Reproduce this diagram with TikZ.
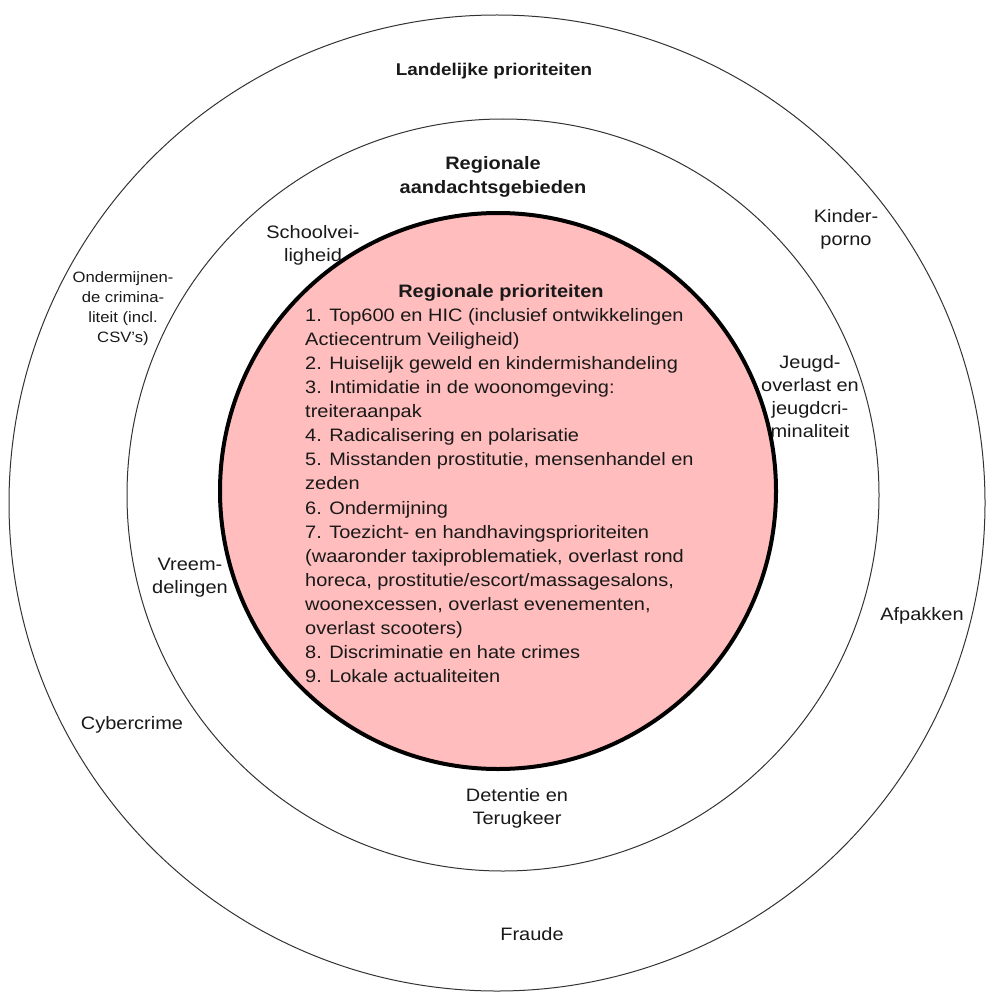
\documentclass[tikz,border=0pt]{standalone}
\usepackage{fontspec}
\setmainfont{Liberation Sans}[FakeStretch=1.11]
\usetikzlibrary{shapes,arrows,positioning,calc}
\definecolor{roze}{RGB}{255,189,189}

\tikzset{
  ring/.style={draw=black!80, circle, inner sep=0pt, line width=1pt},
  tekst/.style={align=center, inner sep=0pt, text=black!90, font=\fontsize{18}{23}\selectfont},
  kop/.style={tekst, font=\bfseries\fontsize{18}{24}\selectfont},
  klein/.style={tekst, font=\fontsize{15}{20}\selectfont},
}

\begin{document}
\begin{tikzpicture}[x=1pt, y=-1pt]
    \useasboundingbox (0,0) rectangle (986,995);

    % de drie ringen
    \node (landelijk) [ring, minimum size=976pt] at (497,503) {};
    \node (regionaal) [ring, minimum size=752pt] at (503,495) {};
    \node (kern) [ring, draw=black, fill=roze, line width=4pt, minimum size=556pt] at (498,491) {};

    % titels
    \node (landtitel) [kop, anchor=base, font=\bfseries\fontsize{17}{24}\selectfont] at (494,76) {Landelijke prioriteiten};
    \node (regtitel) [kop] at (493,177) {Regionale\\aandachtsgebieden};
    \node (kerntitel) [kop, anchor=base] at (501,297) {Regionale prioriteiten};

    % lijst in de kern
    \node (lijst) [tekst, align=left, anchor=north west, font=\fontsize{18}{24.1}\selectfont] at (305,308) {%
        1. Top600 en HIC (inclusief ontwikkelingen\\
        Actiecentrum Veiligheid)\\
        2. Huiselijk geweld en kindermishandeling\\
        3. Intimidatie in de woonomgeving:\\
        treiteraanpak\\
        4. Radicalisering en polarisatie\\
        5. Misstanden prostitutie, mensenhandel en\\
        zeden\\
        6. Ondermijning\\
        7. Toezicht- en handhavingsprioriteiten\\
        (waaronder taxiproblematiek, overlast rond\\
        horeca, prostitutie/escort/massagesalons,\\
        woonexcessen, overlast evenementen,\\
        overlast scooters)\\
        8. Discriminatie en hate crimes\\
        9. Lokale actualiteiten};

    % regionale aandachtsgebieden
    \node (school) [tekst] at (313,245) {Schoolvei-\\ligheid};
    \node (jeugd) [tekst] at (810,397) {Jeugd-\\overlast en\\jeugdcri-\\minaliteit};
    \node (vreemd) [tekst] at (190,578) {Vreem-\\delingen};
    \node (detentie) [tekst] at (517,808) {Detentie en\\Terugkeer};

    % landelijke prioriteiten
    \node (kinder) [tekst] at (846,229) {Kinder-\\porno};
    \node (onderm) [klein] at (123,309) {Ondermijnen-\\de crimina-\\liteit (incl.\\CSV's)};
    \node (afpak) [tekst, anchor=base] at (922,620) {Afpakken};
    \node (cyber) [tekst, anchor=base] at (132,729) {Cybercrime};
    \node (fraude) [tekst, anchor=base] at (532,940) {Fraude};

\end{tikzpicture}
\end{document}
